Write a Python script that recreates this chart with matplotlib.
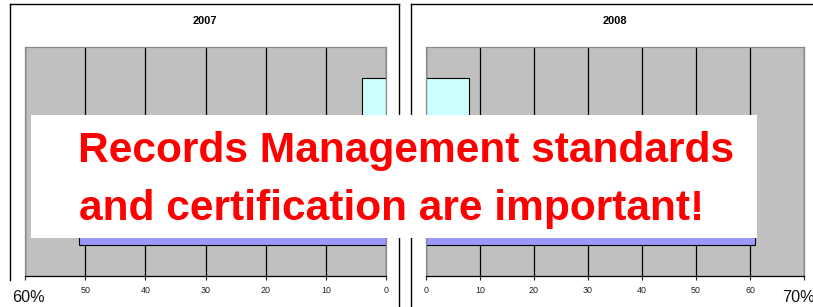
import matplotlib
matplotlib.use("Agg")
import matplotlib.pyplot as plt
from matplotlib.patches import Rectangle
from matplotlib.lines import Line2D

plt.rcParams['font.family'] = ['Liberation Sans', 'DejaVu Sans']

# ---- data ----
categories = ["B", "A"]          # bottom-to-top (labels hidden in original)
values_2007 = [51, 4]
values_2008 = [61, 8]
colors = ["#9999FF", "#CCFFFF"]
ticks_2007 = [0, 10, 20, 30, 40, 50, 60]
ticklabels_2007 = ["0", "10", "20", "30", "40", "50", ""]
ticks_2008 = [0, 10, 20, 30, 40, 50, 60, 70]
ticklabels_2008 = ["0", "10", "20", "30", "40", "50", "60", ""]
titles = ["2007", "2008"]
headline = ["Records Management standards", "and certification are important!"]
corner_labels = ["60%", "70%"]

W, H = 813, 307
fig = plt.figure(figsize=(W / 100, H / 100), dpi=100)
fig.patch.set_facecolor("white")

def fx(px):
    return px / W

def fy(py):
    return 1 - py / H

def make_ax(x0, x1, y0, y1):
    return fig.add_axes([fx(x0), fy(y1), fx(x1) - fx(x0), fy(y0) - fy(y1)])

ax1 = make_ax(25, 386, 47, 276)
ax2 = make_ax(426, 804, 47, 276)

ypos = list(range(len(categories)))
for ax, vals, ticks, tlabels, xlim in [
    (ax1, values_2007, ticks_2007, ticklabels_2007, (60, 0)),
    (ax2, values_2008, ticks_2008, ticklabels_2008, (0, 70)),
]:
    ax.set_facecolor("#C0C0C0")
    ax.set_xlim(*xlim)
    ax.set_ylim(-0.5, len(categories) - 0.5)
    for t in ticks:
        ax.axvline(t, color="black", lw=0.9, zorder=1)
    ax.barh(ypos, vals, height=0.46, color=colors, edgecolor="black",
            linewidth=0.8, zorder=2)
    ax.set_xticks(ticks)
    ax.set_xticklabels(tlabels)
    ax.set_yticks([])
    ax.tick_params(axis="x", direction="out", length=3, width=0.8,
                   labelsize=6.4, pad=4, colors="#222222")
    for s in ["left", "right", "top"]:
        ax.spines[s].set_color("#8a8a8a")
        ax.spines[s].set_linewidth(0.9)
    ax.spines["bottom"].set_color("black")
    ax.spines["bottom"].set_linewidth(0.9)

# panel titles
fig.text(fx(205), fy(21), titles[0], ha="center", va="center",
         fontsize=7.9, fontweight="bold")
fig.text(fx(615), fy(21), titles[1], ha="center", va="center",
         fontsize=7.9, fontweight="bold")

# panel frames
frame_lines = [
    ((10, 399), (4, 4)),
    ((10, 10), (4, 280)),
    ((399, 399), (4, 307)),
    ((411, 813), (4, 4)),
    ((411, 411), (4, 307)),
]
for xs, ys in frame_lines:
    fig.add_artist(Line2D([fx(x) for x in xs], [fy(y) for y in ys],
                          color="black", lw=1.0))

# corner labels
fig.text(fx(12), fy(302.5), corner_labels[0], ha="left", va="baseline",
         fontsize=11.7, color="#111111")
fig.text(fx(782), fy(302.5), corner_labels[1], ha="left", va="baseline",
         fontsize=11.7, color="#111111")

# white overlay box with headline
fig.add_artist(Rectangle((fx(31), fy(238)), fx(757) - fx(31), fy(115) - fy(238),
                         transform=fig.transFigure, facecolor="white",
                         edgecolor="none", zorder=5))
fig.text(fx(78), fy(162), headline[0], ha="left", va="baseline",
         fontsize=30.6, fontweight="bold", color="#FF0000", zorder=6)
fig.text(fx(79), fy(220), headline[1], ha="left", va="baseline",
         fontsize=30.6, fontweight="bold", color="#FF0000", zorder=6)

fig.savefig("out.png", dpi=100, facecolor="white")
